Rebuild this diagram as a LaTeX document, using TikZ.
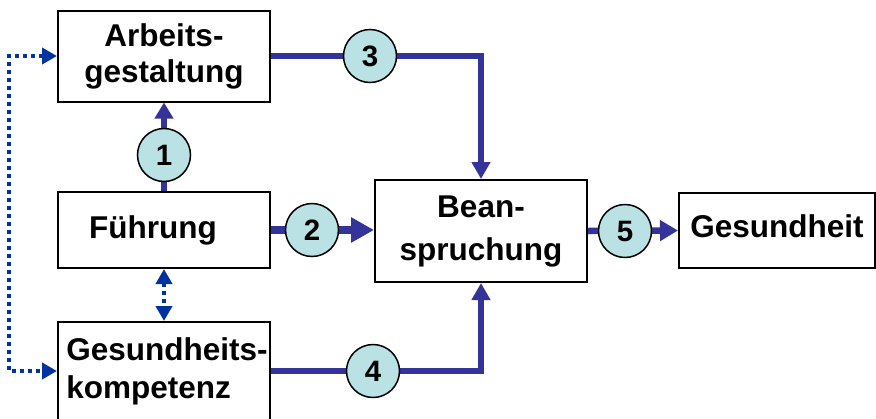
\documentclass[tikz,border=0pt]{standalone}
\usepackage{fontspec}
\setmainfont{Liberation Sans}
\usetikzlibrary{arrows.meta}
\definecolor{lineblue}{RGB}{51,51,153}
\definecolor{dotblue}{RGB}{0,51,160}
\definecolor{circfill}{RGB}{186,225,227}
\tikzset{dtip/.tip={Triangle[length=15pt,width=16pt]}}
\begin{document}
\begin{tikzpicture}[x=1pt,y=-1pt,
  box/.style={draw=black, line width=2pt, fill=white, inner sep=0pt, align=center,
    font=\fontsize{31.5}{36}\selectfont\bfseries},
  num/.style={circle, draw=black, line width=1.5pt, fill=circfill, minimum size=53pt,
    inner sep=0pt, font=\fontsize{29.5}{30}\selectfont\bfseries},
  flow/.style={draw=lineblue, line width=6pt},
  dots/.style={draw=dotblue, line width=4pt, dash pattern=on 4pt off 4pt}
]
\useasboundingbox (0,0) rectangle (876,418);
\clip (0,0) rectangle (876,418);

% boxes
\node[box, minimum width=212pt, minimum height=91pt] (arb) at (164,56) {Arbeits-\\gestaltung};
\node[box, minimum width=212pt, minimum height=76pt] (fu) at (164,230) {F\"uhrung\hspace*{22pt}};
\node[box, minimum width=212pt, minimum height=98pt, align=left, font=\fontsize{31.5}{38}\selectfont\bfseries] (gk) at (164,371)
  {\hspace*{6pt}Gesundheits-\\\hspace*{6pt}kompetenz};
\node[box, minimum width=212pt, minimum height=102pt, font=\fontsize{31.5}{43}\selectfont\bfseries] (bean) at (481,231) {Bean-\\spruchung};
\node[box, minimum width=196pt, minimum height=75pt, text depth=8pt] (gh) at (777,230.5) {Gesundheit};

% solid connectors
\draw[flow, line width=5.5pt, -{Triangle[length=16pt,width=18pt]}] (fu.north) -- (arb.south);
\draw[flow, line width=8pt, -{Triangle[length=23pt,width=24pt]}] (fu.east) -- (fu.east -| bean.west);
\draw[flow, -{Triangle[length=17pt,width=18pt]}] (arb.east) -| (bean.north);
\draw[flow, -{Triangle[length=17pt,width=18pt]}] (gk.east) -| (bean.south);
\draw[flow, line width=6.5pt, -{Triangle[length=18pt,width=20pt]}] (bean.east) -- (gh.west);

% dotted connectors
\draw[dots, dtip-dtip] (arb.west) -- ++(-48,0) |- (gk.west);
\draw[dots, dtip-dtip] (fu.south) -- (gk.north);

% numbered circles
\node[num] (c1) at (164,155) {1};
\node[num] (c2) at (312,230) {2};
\node[num] (c3) at (370,56) {3};
\node[num] (c4) at (373,371) {4};
\node[num] (c5) at (625,231) {5};
\end{tikzpicture}
\end{document}
